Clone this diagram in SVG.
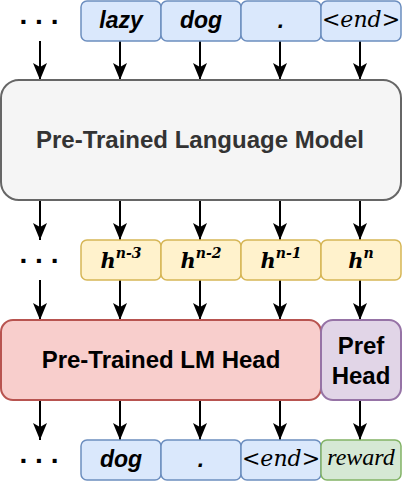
<svg xmlns="http://www.w3.org/2000/svg" width="404" height="484" viewBox="0 0 404 484">
<style>
.tok{fill:#dae8fc;stroke:#6c8ebf;stroke-width:1.5}
.hid{fill:#fff2cc;stroke:#d6b656;stroke-width:1.5}
.rew{fill:#d5e8d4;stroke:#82b366;stroke-width:1.5}
.lm{fill:#f5f5f5;stroke:#666666;stroke-width:2}
.head{fill:#f8cecc;stroke:#b85450;stroke-width:2}
.pref{fill:#e1d5e7;stroke:#9673a6;stroke-width:2}
.t{font-family:"Liberation Sans",Arial,sans-serif;font-weight:bold;font-style:italic;font-size:23px;text-anchor:middle;fill:#000}
.big{font-family:"Liberation Sans",Arial,sans-serif;font-weight:bold;font-size:24px;text-anchor:middle;fill:#000}
.end{font-family:"DejaVu Serif",serif;font-style:italic;font-size:22px;text-anchor:middle;fill:#000}
.h{font-family:"DejaVu Serif",serif;font-weight:bold;font-style:italic;font-size:21px;text-anchor:middle;fill:#000}
.rw{font-family:"Liberation Serif","Times New Roman",serif;font-style:italic;font-size:24px;text-anchor:middle;fill:#000}
.dots{font-family:"Liberation Sans",Arial,sans-serif;font-weight:bold;font-size:28px;text-anchor:middle;fill:#000}
.c line{stroke:#000;stroke-width:2;marker-end:url(#a)}
</style>
<defs>
<marker id="a" viewBox="-18 -8 19 16" markerWidth="19" markerHeight="16" refX="0" refY="0" orient="auto" markerUnits="userSpaceOnUse">
<path d="M0,0 L-17,-7 L-13,0 L-17,7 Z" fill="#000"/>
</marker>
</defs>

<g id="connectors" class="c">
<line x1="40" y1="41" x2="40" y2="80"/>
<line x1="120" y1="41" x2="120" y2="80"/>
<line x1="200" y1="41" x2="200" y2="80"/>
<line x1="280" y1="41" x2="280" y2="80"/>
<line x1="360" y1="41" x2="360" y2="80"/>
<line x1="40" y1="200" x2="40" y2="240"/>
<line x1="120" y1="200" x2="120" y2="240"/>
<line x1="200" y1="200" x2="200" y2="240"/>
<line x1="280" y1="200" x2="280" y2="240"/>
<line x1="360" y1="200" x2="360" y2="240"/>
<line x1="40" y1="280" x2="40" y2="320"/>
<line x1="120" y1="280" x2="120" y2="320"/>
<line x1="200" y1="280" x2="200" y2="320"/>
<line x1="280" y1="280" x2="280" y2="320"/>
<line x1="360" y1="280" x2="360" y2="320"/>
<line x1="40" y1="400" x2="40" y2="440"/>
<line x1="120" y1="400" x2="120" y2="440"/>
<line x1="200" y1="400" x2="200" y2="440"/>
<line x1="280" y1="400" x2="280" y2="440"/>
<line x1="360" y1="400" x2="360" y2="440"/>
</g>

<g id="dots-top"><text class="dots" x="39" y="23.5">. . .</text></g>
<g id="in-lazy"><rect class="tok" x="81" y="1" width="80" height="40" rx="6"/><text class="t" x="121" y="27.5">lazy</text></g>
<g id="in-dog"><rect class="tok" x="161" y="1" width="80" height="40" rx="6"/><text class="t" x="201" y="27.5">dog</text></g>
<g id="in-dot"><rect class="tok" x="241" y="1" width="80" height="40" rx="6"/><text class="t" x="281" y="27.5">.</text></g>
<g id="in-end"><rect class="tok" x="321" y="1" width="80" height="40" rx="6"/><text class="end" x="361" y="26.5">&lt;end&gt;</text></g>

<g id="plm"><rect class="lm" x="1" y="80" width="400" height="120" rx="18"/><text class="big" x="200" y="148" style="fill:#333333">Pre-Trained Language Model</text></g>

<g id="dots-mid"><text class="dots" x="39" y="262.7">. . .</text></g>
<g id="h3"><rect class="hid" x="81" y="240" width="80" height="40" rx="6"/><text class="h" x="121" y="268">h<tspan font-size="14" dy="-10">n-3</tspan></text></g>
<g id="h2"><rect class="hid" x="161" y="240" width="80" height="40" rx="6"/><text class="h" x="201" y="268">h<tspan font-size="14" dy="-10">n-2</tspan></text></g>
<g id="h1"><rect class="hid" x="241" y="240" width="80" height="40" rx="6"/><text class="h" x="281" y="268">h<tspan font-size="14" dy="-10">n-1</tspan></text></g>
<g id="h0"><rect class="hid" x="321" y="240" width="80" height="40" rx="6"/><text class="h" x="361" y="268">h<tspan font-size="14" dy="-10">n</tspan></text></g>

<g id="lmhead"><rect class="head" x="1" y="320" width="320" height="80" rx="12"/><text class="big" x="161" y="368">Pre-Trained LM Head</text></g>
<g id="prefhead"><rect class="pref" x="321" y="320" width="80" height="80" rx="12"/><text class="big" x="361" y="353.5">Pref</text><text class="big" x="361" y="383.5">Head</text></g>

<g id="dots-bot"><text class="dots" x="39" y="463.3">. . .</text></g>
<g id="out-dog"><rect class="tok" x="81" y="440" width="80" height="40" rx="6"/><text class="t" x="121" y="467">dog</text></g>
<g id="out-dot"><rect class="tok" x="161" y="440" width="80" height="40" rx="6"/><text class="t" x="201" y="467">.</text></g>
<g id="out-end"><rect class="tok" x="241" y="440" width="80" height="40" rx="6"/><text class="end" x="281" y="465.5">&lt;end&gt;</text></g>
<g id="out-reward"><rect class="rew" x="321" y="440" width="80" height="40" rx="6"/><text class="rw" x="361" y="465">reward</text></g>
</svg>
